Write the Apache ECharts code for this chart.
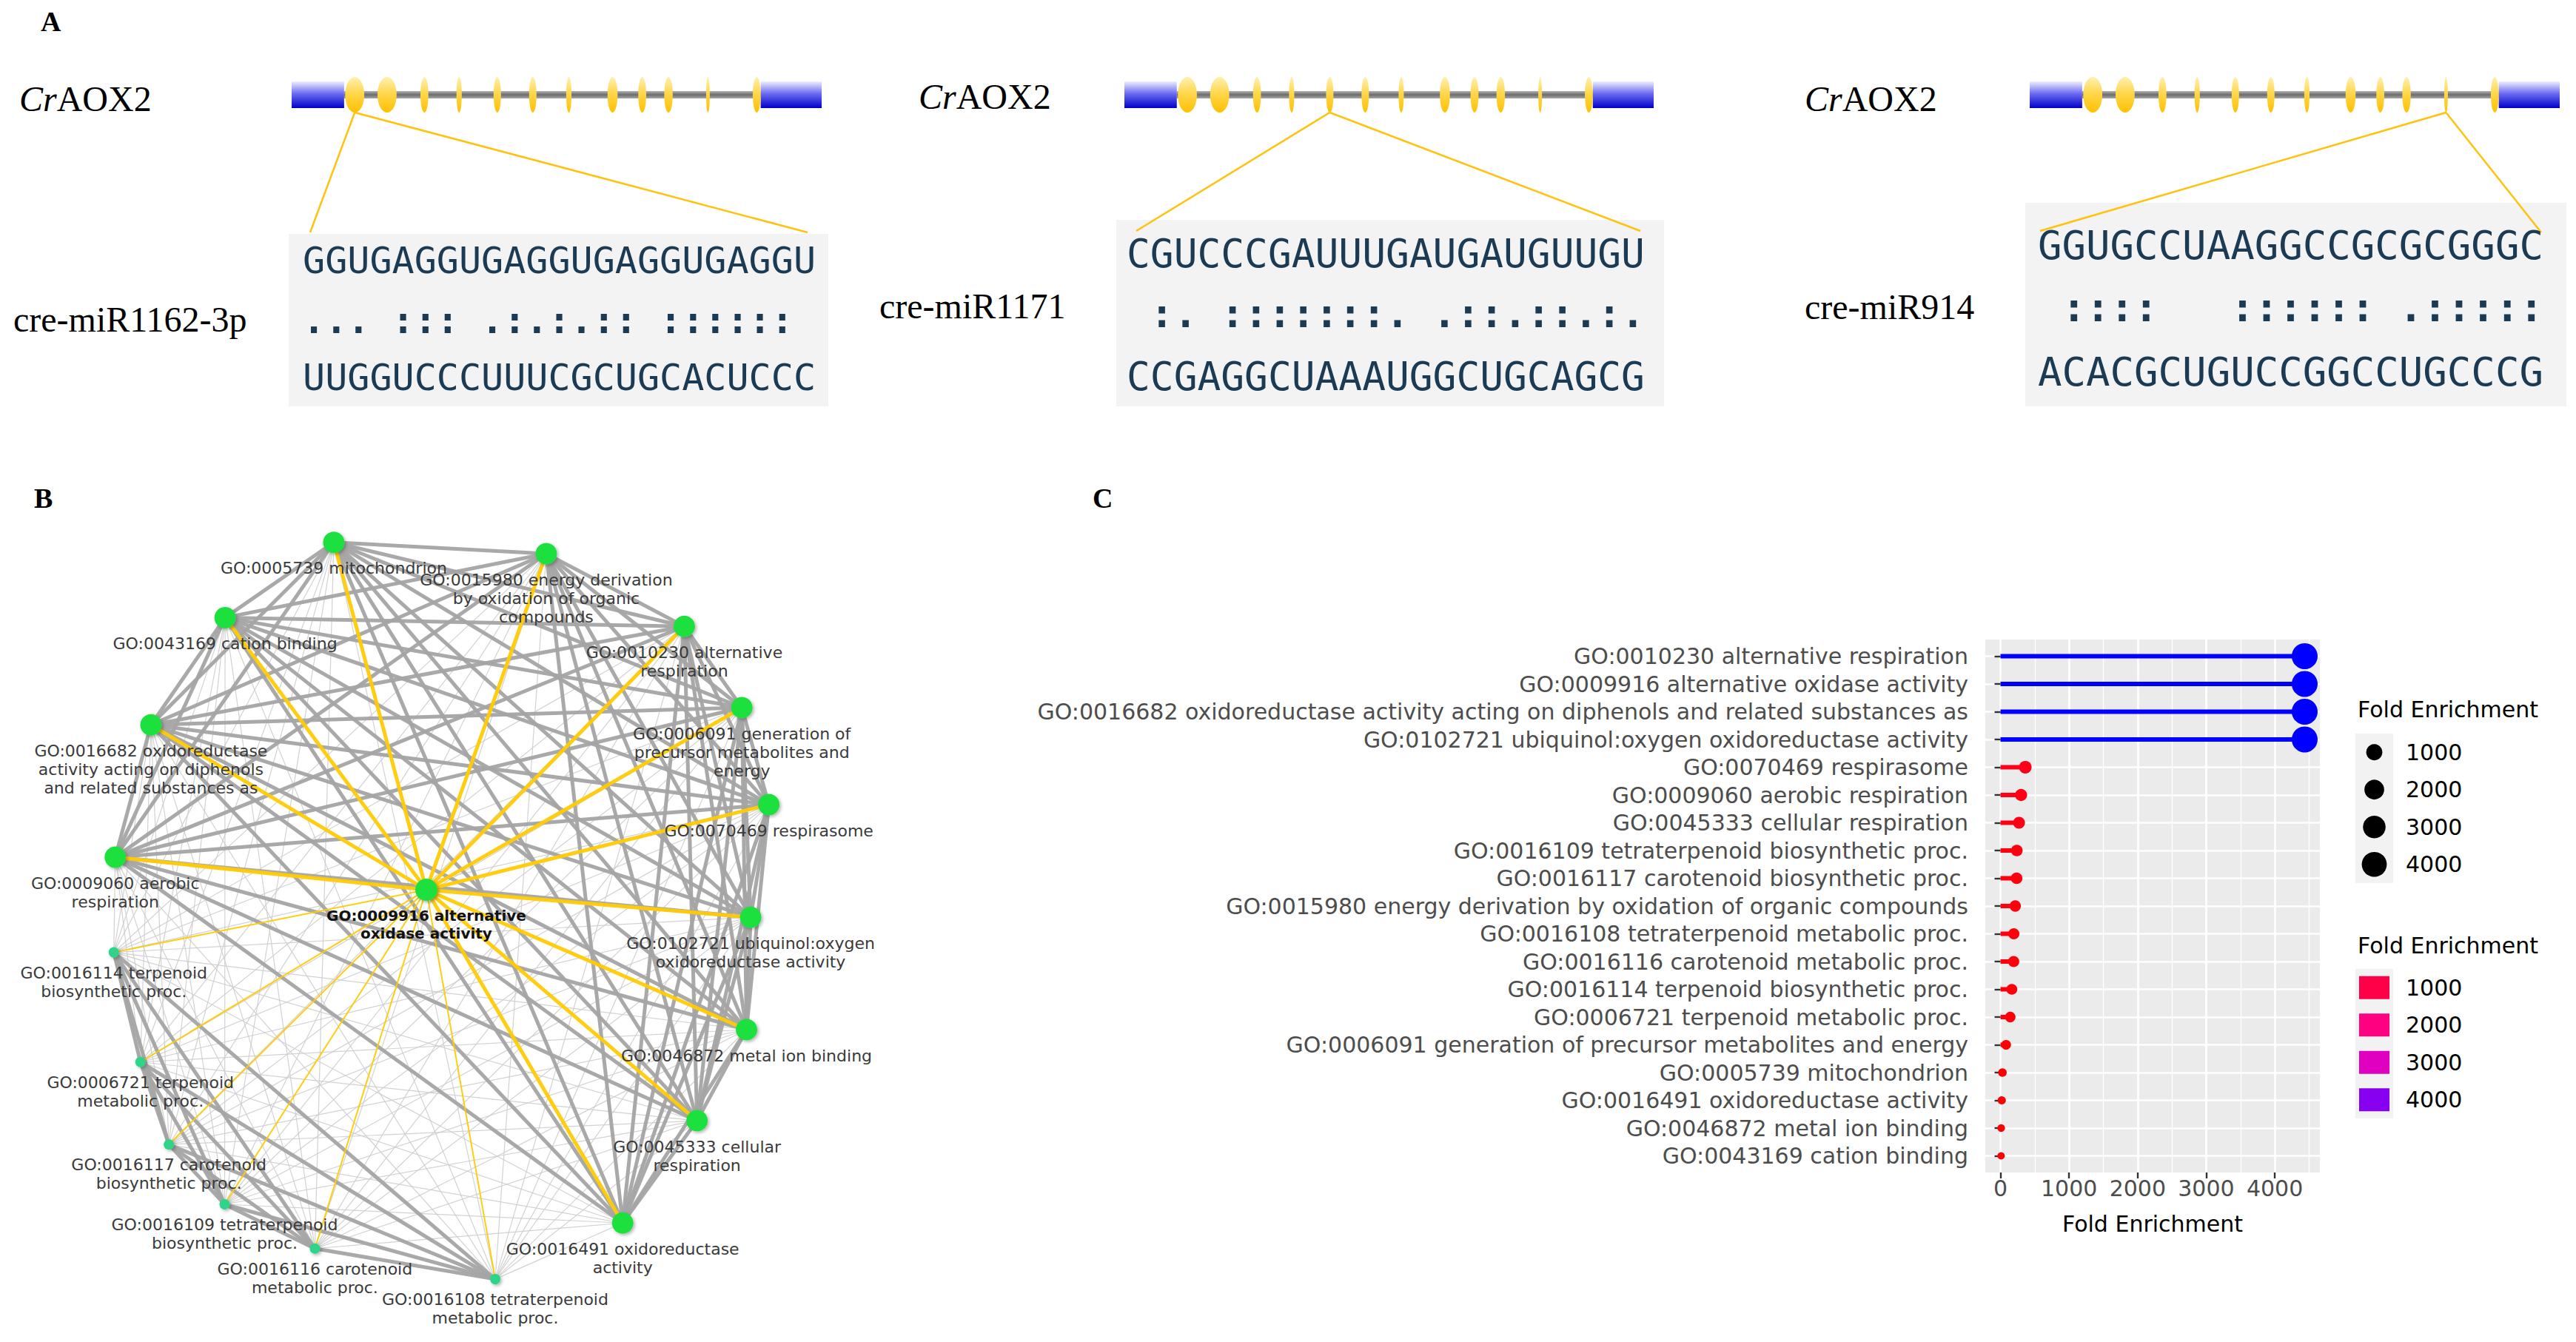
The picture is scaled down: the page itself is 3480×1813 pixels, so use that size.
<!DOCTYPE html>
<html>
<head>
<meta charset="utf-8">
<script src="https://cdn.jsdelivr.net/npm/echarts@6.0.0/dist/echarts.min.js"></script>
<style>
html,body{margin:0;padding:0;background:#ffffff;}
#chart{width:3480px;height:1813px;}
</style>
</head>
<body>
<div id="chart"></div>
<script>
// ===================== DATA =====================
// ---- Panel A : gene model + miRNA target pairing ----
const geneName = 'CrAOX2';
const utr5 = [0, 99];
const utr3 = [885, 1000];
const exonStart = [101, 162, 243, 311, 381, 448, 518, 596, 654, 703, 782, 870];
const exonEnd   = [137, 198, 258, 321, 395, 462, 528, 615, 669, 719, 789, 885];
const targetExon = [0, 4, 10];
const mirNames = ['cre-miR1162-3p', 'cre-miR1171', 'cre-miR914'];
const targetSeqs = ['GGUGAGGUGAGGUGAGGUGAGGU', 'CGUCCCGAUUUGAUGAUGUUGU', 'GGUGCCUAAGGCCGCGCGGGC'];
const pairLines  = ['... ::: .:.:.:: ::::::', ' :. :::::::. .::.::.:.', ' ::::   :::::: .:::::'];
const mirSeqs    = ['UUGGUCCCUUUCGCUGCACUCCC', 'CCGAGGCUAAAUGGCUGCAGCG', 'ACACGCUGUCCGGCCUGCCCG'];

// ---- Panel B : GO network ----
const netCenter = 'GO:0009916 alternative oxidase activity';
const netCenterLabel = 'GO:0009916 alternative\noxidase activity';
const netRing = [
  'GO:0005739 mitochondrion',
  'GO:0015980 energy derivation by oxidation of organic compounds',
  'GO:0010230 alternative respiration',
  'GO:0006091 generation of precursor metabolites and energy',
  'GO:0070469 respirasome',
  'GO:0102721 ubiquinol:oxygen oxidoreductase activity',
  'GO:0046872 metal ion binding',
  'GO:0045333 cellular respiration',
  'GO:0016491 oxidoreductase activity',
  'GO:0016108 tetraterpenoid metabolic proc.',
  'GO:0016116 carotenoid metabolic proc.',
  'GO:0016109 tetraterpenoid biosynthetic proc.',
  'GO:0016117 carotenoid biosynthetic proc.',
  'GO:0006721 terpenoid metabolic proc.',
  'GO:0016114 terpenoid biosynthetic proc.',
  'GO:0009060 aerobic respiration',
  'GO:0016682 oxidoreductase activity acting on diphenols and related substances as',
  'GO:0043169 cation binding'
];
const netRingLabels = [
  'GO:0005739 mitochondrion',
  'GO:0015980 energy derivation\nby oxidation of organic\ncompounds',
  'GO:0010230 alternative\nrespiration',
  'GO:0006091 generation of\nprecursor metabolites and\nenergy',
  'GO:0070469 respirasome',
  'GO:0102721 ubiquinol:oxygen\noxidoreductase activity',
  'GO:0046872 metal ion binding',
  'GO:0045333 cellular\nrespiration',
  'GO:0016491 oxidoreductase\nactivity',
  'GO:0016108 tetraterpenoid\nmetabolic proc.',
  'GO:0016116 carotenoid\nmetabolic proc.',
  'GO:0016109 tetraterpenoid\nbiosynthetic proc.',
  'GO:0016117 carotenoid\nbiosynthetic proc.',
  'GO:0006721 terpenoid\nmetabolic proc.',
  'GO:0016114 terpenoid\nbiosynthetic proc.',
  'GO:0009060 aerobic\nrespiration',
  'GO:0016682 oxidoreductase\nactivity acting on diphenols\nand related substances as',
  'GO:0043169 cation binding'
];
const netGroup = ['R','R','R','R','R','R','R','R','R','T','T','T','T','T','T','R','R','R'];

// ---- Panel C : fold enrichment lollipop ----
const enrichTerms = [
  'GO:0010230 alternative respiration',
  'GO:0009916 alternative oxidase activity',
  'GO:0016682 oxidoreductase activity acting on diphenols and related substances as',
  'GO:0102721 ubiquinol:oxygen oxidoreductase activity',
  'GO:0070469 respirasome',
  'GO:0009060 aerobic respiration',
  'GO:0045333 cellular respiration',
  'GO:0016109 tetraterpenoid biosynthetic proc.',
  'GO:0016117 carotenoid biosynthetic proc.',
  'GO:0015980 energy derivation by oxidation of organic compounds',
  'GO:0016108 tetraterpenoid metabolic proc.',
  'GO:0016116 carotenoid metabolic proc.',
  'GO:0016114 terpenoid biosynthetic proc.',
  'GO:0006721 terpenoid metabolic proc.',
  'GO:0006091 generation of precursor metabolites and energy',
  'GO:0005739 mitochondrion',
  'GO:0016491 oxidoreductase activity',
  'GO:0046872 metal ion binding',
  'GO:0043169 cation binding'
];
const enrichFold = [4436, 4436, 4436, 4436, 362, 300, 270, 238, 235, 215, 194, 192, 165, 142, 82, 28, 18, 10, 9];
const xTicks = [0, 1000, 2000, 3000, 4000];
const legendValues = [1000, 2000, 3000, 4000];

// ===================== LAYOUT / STYLE =====================
const SANS = 'DejaVu Sans';
const SERIF = 'Liberation Serif';
const MONO = 'DejaVu Sans Mono';

const GA = [
  {left: 394,  width: 716, nameX: 26,   nameY: 133, mirX: 18,   mirY: 431, box: [390, 316, 729, 233],  seqX: 409,  seqW: 693, rowsY: [352, 433, 510], endL: [419, 314],  endR: [1091, 314]},
  {left: 1519, width: 715, nameX: 1241, nameY: 130, mirX: 1188, mirY: 413, box: [1508, 297, 740, 252], seqX: 1522, seqW: 700, rowsY: [342, 423, 508], endL: [1535, 312], endR: [2216, 312]},
  {left: 2742, width: 716, nameX: 2438, nameY: 133, mirX: 2438, mirY: 414, box: [2736, 274, 731, 275], seqX: 2753, seqW: 683, rowsY: [331, 415, 502], endL: [2756, 312], endR: [3433, 314]}
];
const GENE_TOP = 104, GENE_H = 48;

// network layout: ellipse box, ring placement (deg clockwise from top, relative radius) and centre offset
const NET = {
  left: 151, top: 732, width: 888, height: 998, center: [-0.043, 0.058],
  ringAngles: [342, 18.4, 43.9, 59, 73.9, 91, 109, 126, 146.7, 170.5, 202.7, 219.6, 232.6, 245.9, 263.6, 278.4, 299.8, 320.5],
  ringRadius: [1.05, 1.02, 1.07, 1.07, 1.04, 0.944, 0.985, 0.965, 1.01, 1.01, 0.99, 1.03, 1.04, 1.0, 1.0, 1.0, 1.015, 1.03]
};

const PC = {left: 2682, top: 864, width: 452, height: 720};
const vMax = Math.max(...enrichFold), vMin = Math.min(...enrichFold);
const xMin = -0.05 * vMax, xMax = 1.05 * vMax;
const pxPerUnit = PC.width / (xMax - xMin);
const px0 = PC.left + (0 - xMin) * pxPerUnit;
const minorMax = Math.floor(xMax / 500) * 500;
const majorMax = Math.floor(xMax / 1000) * 1000;
const rowUnit = PC.height / (enrichTerms.length - 1 + 1.2);

const colorStops = [[0, [255, 0, 0]], [0.223, [255, 0, 72]], [0.449, [255, 0, 128]], [0.675, [224, 0, 192]], [0.901, [136, 0, 240]], [1, [0, 0, 255]]];
function colorOf(v) {
  const t = Math.max(0, Math.min(1, (v - vMin) / (vMax - vMin)));
  for (let i = 1; i < colorStops.length; i++) {
    if (t <= colorStops[i][0]) {
      const a = colorStops[i - 1], b = colorStops[i];
      const f = (t - a[0]) / (b[0] - a[0]);
      const c = a[1].map((x, k) => Math.round(x + (b[1][k] - x) * f));
      return 'rgb(' + c.join(',') + ')';
    }
  }
  return 'rgb(0,0,255)';
}
function sizeOf(v) {
  const t = Math.max(0, (v - vMin) / (vMax - vMin));
  return 10 + 25 * Math.sqrt(t);
}

// ===================== CHART =====================
const chart = echarts.init(document.getElementById('chart'), null, {renderer: 'svg', width: 3480, height: 1813});

const LG = echarts.graphic.LinearGradient;
function renderGene(params, api) {
  const kind = api.value(2);
  const p0 = api.coord([api.value(0), 0]);
  const p1 = api.coord([api.value(1), 0]);
  const cy = p0[1];
  if (kind === 0) {
    return {type: 'rect', shape: {x: p0[0], y: cy - 5, width: p1[0] - p0[0], height: 10},
      style: {fill: new LG(0, 0, 0, 1, [{offset: 0, color: '#B4B4B4'}, {offset: 0.5, color: '#6C6C6C'}, {offset: 1, color: '#A8A8A8'}])}};
  }
  if (kind === 1) {
    return {type: 'rect', shape: {x: p0[0], y: cy - 18, width: p1[0] - p0[0], height: 36},
      style: {fill: new LG(0, 0, 0, 1, [{offset: 0, color: '#EEEEFF'}, {offset: 0.45, color: '#6D6DF2'}, {offset: 1, color: '#0000C8'}])}};
  }
  return {type: 'ellipse', shape: {cx: (p0[0] + p1[0]) / 2, cy: cy, rx: (p1[0] - p0[0]) / 2, ry: 24},
    style: {fill: new LG(0, 0, 0, 1, [{offset: 0, color: '#FFF0B0'}, {offset: 0.45, color: '#FFD84E'}, {offset: 1, color: '#FFC000'}])}};
}
const geneItems = [[utr5[1], utr3[0], 0], [utr5[0], utr5[1], 1], [utr3[0], utr3[1], 1]]
  .concat(exonStart.map((s, i) => [s, exonEnd[i], 2]));

const grids = [], xAxes = [], yAxes = [], series = [];
GA.forEach((g, i) => {
  grids.push({left: g.left, top: GENE_TOP, width: g.width, height: GENE_H});
  xAxes.push({gridIndex: i, type: 'value', min: 0, max: 1000, show: false});
  yAxes.push({gridIndex: i, type: 'value', min: -1, max: 1, show: false});
  series.push({type: 'custom', xAxisIndex: i, yAxisIndex: i, renderItem: renderGene, data: geneItems, clip: false, silent: true});
});

// Panel B network (grid 3)
grids.push({left: NET.left, top: NET.top, width: NET.width, height: NET.height});
xAxes.push({gridIndex: 3, type: 'value', min: -1, max: 1, show: false});
yAxes.push({gridIndex: 3, type: 'value', min: -1, max: 1, show: false});
const nodeColor = {R: '#1FE03E', T: '#2ED487'};
const nodeSize = {R: 29, T: 14};
const nodes = [{
  name: netCenter, value: NET.center.slice(), symbolSize: 30,
  itemStyle: {color: '#1FE03E', shadowBlur: 4, shadowColor: 'rgba(0,0,0,0.35)', shadowOffsetX: 2, shadowOffsetY: 2},
  label: {formatter: netCenterLabel, fontWeight: 'bold', color: '#111111', fontSize: 20, lineHeight: 24}
}];
netRing.forEach((t, i) => {
  const a = NET.ringAngles[i] * Math.PI / 180;
  const r = NET.ringRadius[i];
  nodes.push({
    name: t, value: [r * Math.sin(a), r * Math.cos(a)], symbolSize: nodeSize[netGroup[i]],
    itemStyle: {color: nodeColor[netGroup[i]], shadowBlur: 4, shadowColor: 'rgba(0,0,0,0.3)', shadowOffsetX: 2, shadowOffsetY: 2},
    label: {formatter: netRingLabels[i]}
  });
});
const thinLinks = [], thickLinks = [], yellowLinks = [];
for (let i = 0; i < netRing.length; i++) {
  for (let j = i + 1; j < netRing.length; j++) {
    if (netGroup[i] === netGroup[j]) {
      thickLinks.push({source: netRing[i], target: netRing[j], lineStyle: {width: 5, color: '#A4A4A4', opacity: 0.95}});
    } else {
      thinLinks.push({source: netRing[i], target: netRing[j], lineStyle: {width: 1.2, color: '#CDCDCD', opacity: 0.9}});
    }
  }
  yellowLinks.push({source: netCenter, target: netRing[i], lineStyle: {width: netGroup[i] === 'R' ? 5 : 2, color: '#FFCB05', opacity: 0.95}});
}
series.push({
  type: 'graph', coordinateSystem: 'cartesian2d', xAxisIndex: 3, yAxisIndex: 3, layout: 'none',
  data: nodes, links: thinLinks.concat(thickLinks, yellowLinks),
  symbol: 'circle', roam: false, silent: true,
  label: {show: true, position: 'bottom', distance: 8, fontFamily: SANS, fontSize: 22, lineHeight: 25, color: '#3A3A3A', align: 'center'},
  lineStyle: {curveness: 0},
  emphasis: {disabled: true}
});

// Panel C : background grid (4), minor lines (5), major lines (6), data grid (7)
grids.push({left: PC.left, top: PC.top, width: PC.width, height: PC.height, show: true, backgroundColor: '#EBEBEB', borderWidth: 0});
xAxes.push({gridIndex: 4, type: 'value', min: 0, max: 1, show: false});
yAxes.push({gridIndex: 4, type: 'value', min: 0, max: 1, show: false});

grids.push({left: px0, top: PC.top, width: minorMax * pxPerUnit, height: PC.height});
xAxes.push({gridIndex: 5, type: 'value', min: 0, max: minorMax, interval: 500,
  axisLine: {show: false}, axisTick: {show: false}, axisLabel: {show: false},
  splitLine: {show: true, lineStyle: {color: '#FFFFFF', width: 1.3}}});
yAxes.push({gridIndex: 5, type: 'value', min: 0, max: 1, show: false});

grids.push({left: px0, top: PC.top, width: majorMax * pxPerUnit, height: PC.height});
xAxes.push({gridIndex: 6, type: 'value', min: 0, max: majorMax, interval: 1000,
  axisLine: {show: false}, axisTick: {show: false}, axisLabel: {show: false},
  splitLine: {show: true, lineStyle: {color: '#FFFFFF', width: 2.6}}});
yAxes.push({gridIndex: 6, type: 'value', min: 0, max: 1, show: false});

grids.push({left: PC.left, top: PC.top + 0.6 * rowUnit, width: PC.width, height: (enrichTerms.length - 1) * rowUnit});
xAxes.push({gridIndex: 7, type: 'value', min: xMin, max: xMax, offset: 0.6 * rowUnit,
  axisLine: {show: false}, splitLine: {show: false},
  axisTick: {show: true, customValues: xTicks, length: 8, lineStyle: {color: '#333333', width: 2.4}},
  axisLabel: {customValues: xTicks, formatter: v => String(Math.round(v)), color: '#4D4D4D', fontFamily: SANS, fontSize: 30, margin: 6},
  name: 'Fold Enrichment', nameLocation: 'middle', nameGap: 54,
  nameTextStyle: {color: '#000000', fontFamily: SANS, fontSize: 30}});
yAxes.push({gridIndex: 7, type: 'category', inverse: true, boundaryGap: false, data: enrichTerms,
  axisLine: {show: false},
  axisTick: {show: true, interval: 0, length: 8, lineStyle: {color: '#333333', width: 2.4}},
  axisLabel: {interval: 0, margin: 23, color: '#4D4D4D', fontFamily: SANS, fontSize: 30},
  splitLine: {show: true, interval: 0, lineStyle: {color: '#FFFFFF', width: 2.6}}});

series.push({
  type: 'bar', xAxisIndex: 7, yAxisIndex: 7, barWidth: 6, clip: false, silent: true,
  data: enrichFold.map(v => ({value: v, itemStyle: {color: colorOf(v)}})), z: 3
});
series.push({
  type: 'scatter', xAxisIndex: 7, yAxisIndex: 7, clip: false, silent: true, symbol: 'circle',
  data: enrichFold.map((v, i) => ({value: [v, i], symbolSize: sizeOf(v), itemStyle: {color: colorOf(v), opacity: 1}})), z: 4
});

chart.setOption({
  backgroundColor: '#ffffff',
  animation: false,
  grid: grids, xAxis: xAxes, yAxis: yAxes, series: series
});

// ===================== ANNOTATIONS (graphic) =====================
function txt(x, y, text, o) {
  o = o || {};
  return {type: 'text', x: x, y: y, silent: true, z: o.z || 10, style: Object.assign({
    text: text, fill: '#000000', fontFamily: SANS, fontSize: 30,
    align: o.align || 'left', verticalAlign: 'middle', textAlign: o.align || 'left', textVerticalAlign: 'middle'
  }, o.style || {})};
}
const gfx = [];
gfx.push(txt(55, 29, 'A', {style: {fontFamily: SERIF, fontWeight: 'bold', fontSize: 38}}));
gfx.push(txt(46, 673, 'B', {style: {fontFamily: SERIF, fontWeight: 'bold', fontSize: 38}}));
gfx.push(txt(1476, 673, 'C', {style: {fontFamily: SERIF, fontWeight: 'bold', fontSize: 38}}));

GA.forEach((g, i) => {
  const ex = targetExon[i];
  const c = (exonStart[ex] + exonEnd[ex]) / 2;
  const p = chart.convertToPixel({gridIndex: i}, [c, 0]);
  const sx = p[0], sy = p[1] + 24;
  gfx.push({type: 'rect', silent: true, z: 1, shape: {x: g.box[0], y: g.box[1], width: g.box[2], height: g.box[3]}, style: {fill: '#F3F3F3'}});
  gfx.push({type: 'line', silent: true, z: 5, shape: {x1: sx, y1: sy, x2: g.endL[0], y2: g.endL[1]}, style: {stroke: '#FFC20E', lineWidth: 2.5}});
  gfx.push({type: 'line', silent: true, z: 5, shape: {x1: sx, y1: sy, x2: g.endR[0], y2: g.endR[1]}, style: {stroke: '#FFC20E', lineWidth: 2.5}});
  gfx.push({type: 'text', x: g.nameX, y: g.nameY, silent: true, z: 10, style: {
    text: '{i|Cr}AOX2', fontFamily: SERIF, fontSize: 48, fill: '#000', align: 'left', verticalAlign: 'middle', textAlign: 'left', textVerticalAlign: 'middle',
    rich: {i: {fontStyle: 'italic', fontFamily: SERIF, fontSize: 48, fill: '#000', color: '#000'}}
  }});
  gfx.push(txt(g.mirX, g.mirY, mirNames[i], {style: {fontFamily: SERIF, fontSize: 48}}));
  const fs = g.seqW / (targetSeqs[i].length * 0.602);
  const seqStyle = {fontFamily: MONO, fontSize: fs, fill: '#1B3B55'};
  gfx.push(txt(g.seqX, g.rowsY[0], targetSeqs[i], {style: seqStyle}));
  gfx.push(txt(g.seqX, g.rowsY[1], pairLines[i].replace(/ /g, '\u00A0'), {style: Object.assign({}, seqStyle, {fontWeight: 'bold'})}));
  gfx.push(txt(g.seqX, g.rowsY[2], mirSeqs[i], {style: seqStyle}));
});

// Panel C legends
const LEG = {x: 3182, title1Y: 958, key1Y: 991, title2Y: 1277, key2Y: 1309, keyH: 50.5, keyW: 51, textX: 3250};
gfx.push(txt(3185, LEG.title1Y, 'Fold Enrichment'));
gfx.push({type: 'rect', silent: true, z: 1, shape: {x: LEG.x, y: LEG.key1Y, width: LEG.keyW, height: LEG.keyH * legendValues.length}, style: {fill: '#F2F2F2'}});
gfx.push(txt(3185, LEG.title2Y, 'Fold Enrichment'));
gfx.push({type: 'rect', silent: true, z: 1, shape: {x: LEG.x, y: LEG.key2Y, width: LEG.keyW, height: LEG.keyH * legendValues.length}, style: {fill: '#F2F2F2'}});
legendValues.forEach((v, k) => {
  const cy1 = LEG.key1Y + LEG.keyH * (k + 0.5);
  const cy2 = LEG.key2Y + LEG.keyH * (k + 0.5);
  const cx = LEG.x + LEG.keyW / 2;
  gfx.push({type: 'circle', silent: true, z: 5, shape: {cx: cx, cy: cy1, r: sizeOf(v) / 2}, style: {fill: '#000000'}});
  gfx.push(txt(LEG.textX, cy1, String(v)));
  gfx.push({type: 'rect', silent: true, z: 5, shape: {x: cx - 20.5, y: cy2 - 15.5, width: 41, height: 31}, style: {fill: colorOf(v)}});
  gfx.push(txt(LEG.textX, cy2, String(v)));
});

chart.setOption({graphic: {elements: gfx}});
</script>
</body>
</html>
